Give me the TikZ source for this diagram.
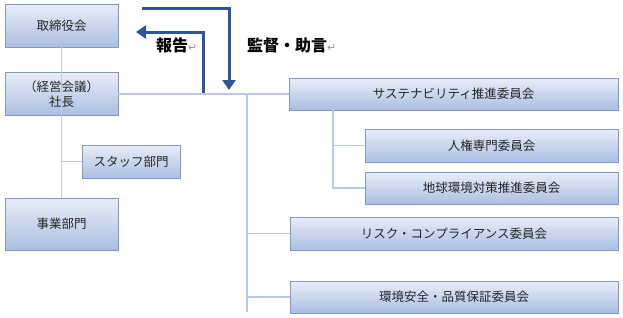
\documentclass[tikz,border=0pt]{standalone}
\usepackage{fontspec}
\setmainfont{Noto Sans CJK JP}
\newfontfamily\markfont{DejaVu Sans}
\usetikzlibrary{arrows.meta, positioning, calc}
\definecolor{boxtop}{HTML}{E9EDF7}
\definecolor{boxbottom}{HTML}{ABBEE2}
\definecolor{boxline}{HTML}{8496C2}
\definecolor{linkblue}{HTML}{B8CAE8}
\definecolor{flowblue}{HTML}{2F5597}

\begin{document}
\begin{tikzpicture}[
    x=1pt, y=-1pt,
    orgbox/.style={
        rectangle,
        draw=boxline,
        line width=0.9pt,
        top color=boxtop,
        bottom color=boxbottom,
        inner sep=0pt,
        outer sep=0pt,
        align=center,
        text=black!85,
        font=\fontsize{12.5}{15}\selectfont
    },
    conn/.style={
        draw=linkblue,
        line width=1.3pt
    },
    flow/.style={
        draw=flowblue,
        line width=3pt,
        -{Triangle[length=10pt, width=13pt]}
    },
    flowlabel/.style={
        anchor=west,
        inner sep=0pt,
        font=\fontsize{16}{19}\selectfont\bfseries
    }
]
    \useasboundingbox (0,0) rectangle (623,317);

    % left column
    \node [orgbox, minimum width=113, minimum height=43] (board) at (61.5,25.5) {取締役会};
    \node [orgbox, minimum width=113, minimum height=43] (president) at (61.5,94) {（経営会議）\\社長};
    \node [orgbox, minimum width=98, minimum height=33] (staff) at (131,161.5) {スタッフ部門};
    \node [orgbox, minimum width=113, minimum height=52] (business) at (61.5,224) {事業部門};

    % committees
    \node [orgbox, minimum width=329, minimum height=32] (sustain) at (453.5,94) {サステナビリティ推進委員会};
    \node [orgbox, minimum width=253, minimum height=33] (hr) at (491.5,145.5) {人権専門委員会};
    \node [orgbox, minimum width=253, minimum height=32] (globalenv) at (491.5,188) {地球環境対策推進委員会};
    \node [orgbox, minimum width=328, minimum height=33] (risk) at (454,233.5) {リスク・コンプライアンス委員会};
    \node [orgbox, minimum width=328, minimum height=32] (envsafe) at (454,297) {環境安全・品質保証委員会};

    % connectors
    \coordinate (trunk) at (247,94);
    \coordinate (trunkend) at (247,312);
    \coordinate (subtrunk) at (333,110);

    \draw [conn] (board.south) -- (business.north);
    \draw [conn] (staff.west) -- (staff.west -| board.south);
    \draw [conn] (president.east) -- (sustain.west);
    \draw [conn] (trunk) -- (trunkend);
    \draw [conn] (trunk) |- (risk.west);
    \draw [conn] (trunk) |- (envsafe.west);
    \draw [conn] (subtrunk) |- (hr.west);
    \draw [conn] (subtrunk) |- (globalenv.west);

    % report / supervision arrows
    \coordinate (reportfrom) at (203,93);
    \coordinate (reportto) at (136,32);
    \coordinate (supervisefrom) at (142,8);
    \coordinate (superviseto) at (229,90);

    \draw [flow] (reportfrom) |- (reportto);
    \draw [flow] (supervisefrom) -| (superviseto);

    \node [flowlabel] (reportlabel) at (156,45) {報告{\markfont\fontsize{11}{12}\selectfont\mdseries\color{gray!80}↵}};
    \node [flowlabel] (supervislabel) at (247,45) {監督・助言{\markfont\fontsize{11}{12}\selectfont\mdseries\color{gray!80}↵}};
\end{tikzpicture}
\end{document}
